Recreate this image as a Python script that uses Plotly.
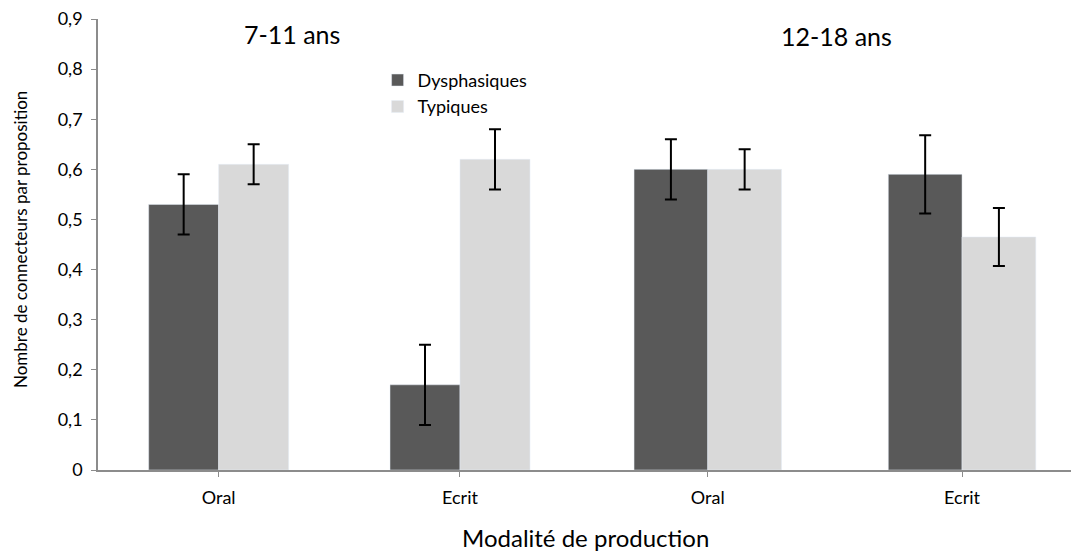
import plotly.graph_objects as go

modalites = ["Oral", "Ecrit"]

# 7-11 ans
dys_jeunes = [0.53, 0.17]
typ_jeunes = [0.61, 0.62]
dys_jeunes_err = [0.06, 0.08]
typ_jeunes_err = [0.04, 0.06]

# 12-18 ans
dys_ados = [0.60, 0.59]
typ_ados = [0.60, 0.465]
dys_ados_err = [0.06, 0.078]
typ_ados_err = [0.04, 0.058]

y_ticks = [0, 0.1, 0.2, 0.3, 0.4, 0.5, 0.6, 0.7, 0.8, 0.9]
y_ticktext = ["0", "0,1", "0,2", "0,3", "0,4", "0,5", "0,6", "0,7", "0,8", "0,9"]

DARK = "#595959"
LIGHT = "#d9d9d9"
FONT = "Lato, 'Open Sans', sans-serif"

# the page has an 8px body margin, so the figure is 8px smaller
W, H = 1071, 543
L, R, T, B = 90, 0, 11, 81
OFF = 8


def err(vals):
    return dict(type="data", array=vals, color="black", thickness=2, width=6)


fig = go.Figure()

fig.add_trace(go.Bar(x=modalites, y=dys_jeunes, name="Dysphasiques",
                     marker_color=DARK, error_y=err(dys_jeunes_err),
                     xaxis="x", yaxis="y", legendgroup="d"))
fig.add_trace(go.Bar(x=modalites, y=typ_jeunes, name="Typiques",
                     marker_color=LIGHT, error_y=err(typ_jeunes_err),
                     xaxis="x", yaxis="y", legendgroup="t"))
fig.add_trace(go.Bar(x=modalites, y=dys_ados, name="Dysphasiques",
                     marker_color=DARK, error_y=err(dys_ados_err),
                     xaxis="x2", yaxis="y", legendgroup="d", showlegend=False))
fig.add_trace(go.Bar(x=modalites, y=typ_ados, name="Typiques",
                     marker_color=LIGHT, error_y=err(typ_ados_err),
                     xaxis="x2", yaxis="y", legendgroup="t", showlegend=False))

axis_line = dict(showline=True, linecolor="#8c8c8c", linewidth=1.5,
                 ticks="outside", ticklen=5, tickcolor="#8c8c8c",
                 showgrid=False, zeroline=False, ticklabeloverflow="allow")

fig.update_layout(
    width=W, height=H,
    margin=dict(l=L, r=R, t=T, b=B),
    paper_bgcolor="white", plot_bgcolor="white",
    barmode="group", bargap=0.42, bargroupgap=0,
    font=dict(family=FONT, size=18, color="black"),
    xaxis=dict(domain=[0, 0.492], range=[-0.5, 1.5], type="category",
               tickfont=dict(size=18), ticklabelstandoff=6, anchor="y",
               **axis_line),
    xaxis2=dict(domain=[0.492, 1], range=[-0.5, 1.46], type="category",
                tickfont=dict(size=18), ticklabelstandoff=6, anchor="y",
                **axis_line),
    yaxis=dict(range=[0, 0.9], tickvals=y_ticks, ticktext=y_ticktext,
               tickfont=dict(size=18), ticklabelstandoff=5, **axis_line),
    legend=dict(x=0.285, y=0.905, xanchor="left", yanchor="top",
                bgcolor="rgba(0,0,0,0)", font=dict(size=18),
                itemwidth=30, tracegroupgap=0),
    showlegend=True,
)

# annotations placed by screen pixel, converted to paper coordinates
labels = [
    ("7-11 ans", 292, 34, 25, 0),
    ("12-18 ans", 836, 36, 25, 0),
    ("Modalité de production", 585, 537, 24, 0),
    ("Nombre de connecteurs par proposition", 20, 240, 17, -90),
]
pw, ph = W - L - R, H - T - B
for text, px, py, size, angle in labels:
    fig.add_annotation(text=text, showarrow=False, textangle=angle,
                       xref="paper", yref="paper",
                       x=(px - OFF - L) / pw, y=(H - B - (py - OFF)) / ph,
                       xanchor="center", yanchor="middle",
                       font=dict(size=size))

fig.write_html("out.html")
